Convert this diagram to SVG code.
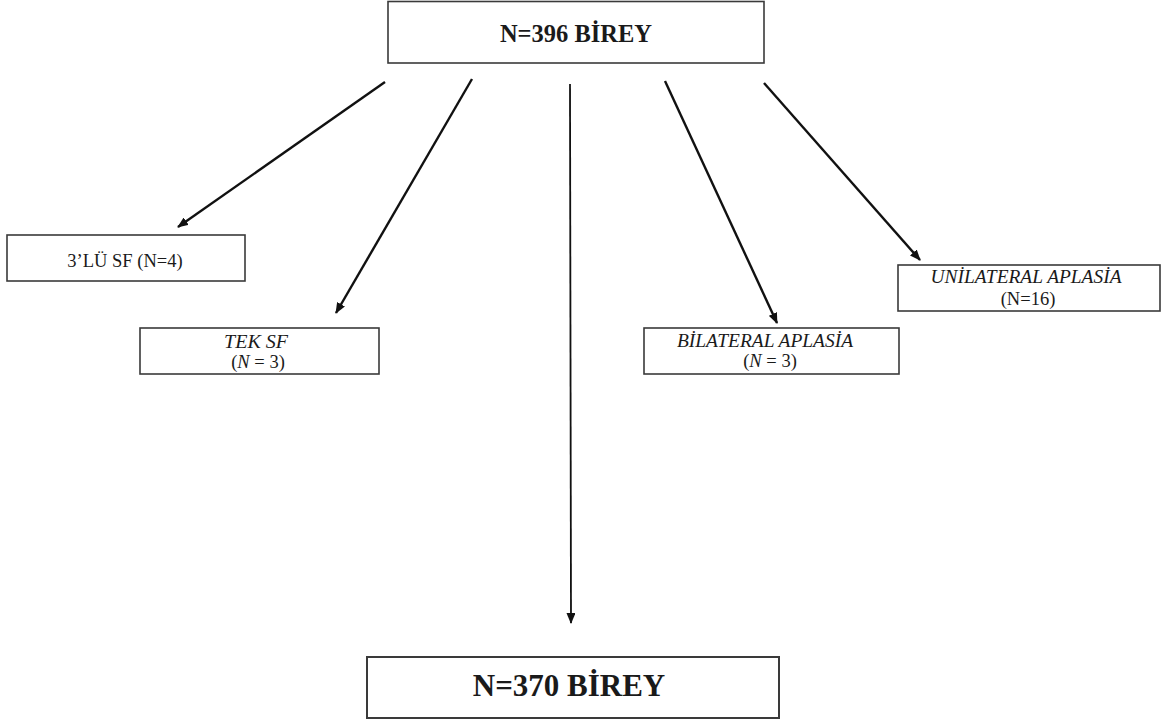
<svg xmlns="http://www.w3.org/2000/svg" width="1163" height="720" viewBox="0 0 1163 720">
<style>
.box{fill:#fff;stroke:#3a3a3a;stroke-width:1.6}
.t{font-family:"Liberation Serif","Times New Roman",serif;fill:#1a1a1a;text-anchor:middle}
.b{font-weight:bold}
.i{font-style:italic}
.c{stroke:#111;stroke-width:2.4;fill:none;marker-end:url(#ah)}
</style>
<defs>
<marker id="ah" markerUnits="userSpaceOnUse" markerWidth="11" markerHeight="9" refX="10" refY="4.5" orient="auto">
<path d="M0,0 L11,4.5 L0,9 Z" fill="#111"/>
</marker>
</defs>
<rect width="1163" height="720" fill="#fff"/>
<g id="connectors">
<line class="c" x1="385" y1="82" x2="178" y2="227"/>
<line class="c" x1="472" y1="79" x2="336" y2="313"/>
<line class="c" x1="570" y1="84" x2="571" y2="623" style="stroke-width:1.8"/>
<line class="c" x1="665" y1="81" x2="777" y2="323"/>
<line class="c" x1="764" y1="83" x2="920" y2="260"/>
</g>
<g id="n396">
<rect class="box" x="388" y="1.5" width="376" height="61.5"/>
<text class="t b" x="576" y="42" font-size="24.5">N=396 BİREY</text>
</g>
<g id="n3lu">
<rect class="box" x="7" y="235" width="238" height="46"/>
<text class="t" x="125" y="267" font-size="18.5">3’LÜ SF (N=4)</text>
</g>
<g id="ntek">
<rect class="box" x="140" y="328" width="239" height="46"/>
<text class="t i" x="256" y="348" font-size="18.5" textLength="64" lengthAdjust="spacingAndGlyphs">TEK SF</text>
<text class="t" x="258" y="368" font-size="18.5">(<tspan class="i">N</tspan> = 3)</text>
</g>
<g id="nbil">
<rect class="box" x="644" y="328" width="255" height="46"/>
<text class="t i" x="765" y="347" font-size="18.5" textLength="176" lengthAdjust="spacingAndGlyphs">BİLATERAL APLASİA</text>
<text class="t" x="770" y="367" font-size="18.5">(<tspan class="i">N</tspan> = 3)</text>
</g>
<g id="nuni">
<rect class="box" x="898" y="265" width="262" height="46"/>
<text class="t i" x="1026" y="283" font-size="18.5" textLength="191" lengthAdjust="spacingAndGlyphs">UNİLATERAL APLASİA</text>
<text class="t" x="1028" y="305" font-size="18.5">(N=16)</text>
</g>
<g id="n370">
<rect class="box" x="367" y="657" width="412" height="61" style="stroke-width:2"/>
<text class="t b" x="569" y="696" font-size="31">N=370 BİREY</text>
</g>
</svg>
